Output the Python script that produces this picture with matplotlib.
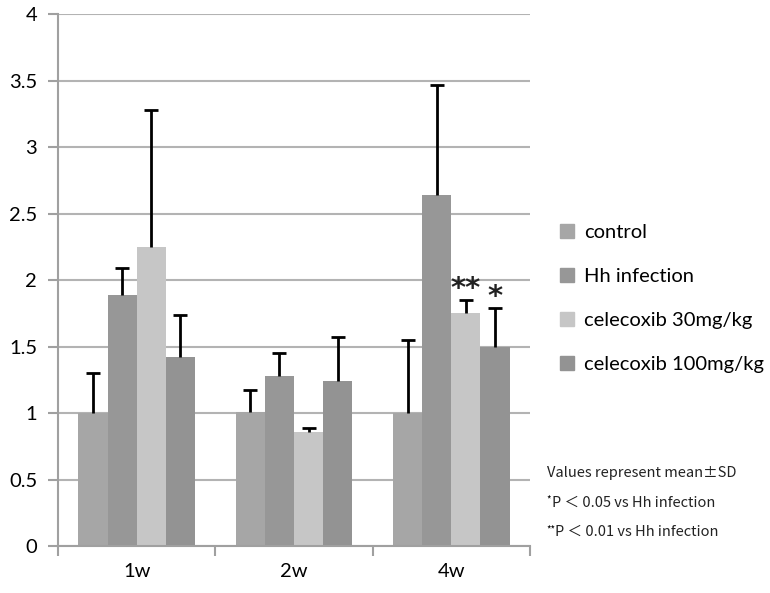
import numpy as np
import matplotlib.pyplot as plt
from matplotlib.patches import Patch

weeks = ["1w", "2w", "4w"]
groups = ["control", "Hh infection", "celecoxib 30mg/kg", "celecoxib 100mg/kg"]
means = {
    "control": [1.0, 1.01, 1.0],
    "Hh infection": [1.89, 1.28, 2.64],
    "celecoxib 30mg/kg": [2.25, 0.86, 1.75],
    "celecoxib 100mg/kg": [1.42, 1.24, 1.50],
}
sd = {
    "control": [0.30, 0.16, 0.55],
    "Hh infection": [0.20, 0.17, 0.83],
    "celecoxib 30mg/kg": [1.03, 0.03, 0.10],
    "celecoxib 100mg/kg": [0.32, 0.33, 0.29],
}
stars = {"celecoxib 30mg/kg": "**", "celecoxib 100mg/kg": "*"}  # at 4w
colors = ["#a6a6a6", "#979797", "#c6c6c6", "#939393"]

plt.rcParams['font.family'] = ['Lato', 'DejaVu Sans']

fig = plt.figure(figsize=(7.7, 5.93), dpi=100)
ax = fig.add_axes([0.0753, 0.0793, 0.613, 0.8967])

x = np.arange(len(weeks)) + 0.5
w = 0.185
for i, g in enumerate(groups):
    pos = x + (i - 1.5) * w
    m = np.array(means[g])
    top = m + np.array(sd[g])
    ax.bar(pos, m, w, color=colors[i], zorder=2)
    # upper-only error bars
    ax.vlines(pos, m, top, color="black", linewidth=2, zorder=3)
    ax.plot(pos, top, linestyle="none", marker="_", markersize=10,
            markeredgewidth=2, color="black", zorder=3)
    if g in stars:
        ax.text(pos[2], top[2] - 0.02, stars[g], ha="center", va="bottom",
                fontsize=21, family="DejaVu Sans", fontweight="bold",
                color="#222222")

ax.set_xlim(0, 3)
ax.set_ylim(0, 4)
ax.set_yticks(np.arange(0, 4.01, 0.5))
ax.set_yticklabels(["0", "0.5", "1", "1.5", "2", "2.5", "3", "3.5", "4"])
ax.yaxis.grid(True, color="#b3b3b3", linewidth=1.5, zorder=0)
ax.set_axisbelow(True)

ax.set_xticks([0, 1, 2, 3])
ax.set_xticklabels([])
ax.set_xticks(x, minor=True)
ax.set_xticklabels(weeks, minor=True)
ax.tick_params(axis="x", which="minor", length=0, pad=12, labelsize=14.5)
ax.tick_params(axis="x", which="major", length=7, width=1.5, color="#a0a0a0")
ax.tick_params(axis="y", length=7, width=1.5, color="#a0a0a0", labelsize=14.5, pad=8)

for s in ["top", "right"]:
    ax.spines[s].set_visible(False)
for s in ["left", "bottom"]:
    ax.spines[s].set_color("#a0a0a0")
    ax.spines[s].set_linewidth(1.5)

handles = [Patch(color=c) for c in colors]
fig.legend(handles, groups, loc="upper left", bbox_to_anchor=(0.727, 0.622),
           frameon=False, fontsize=14.5, handlelength=0.7, handleheight=0.7,
           handletextpad=0.5, labelspacing=1.33, borderpad=0, borderaxespad=0)

note_font = ['Noto Sans CJK JP', 'DejaVu Sans']
fig.text(0.710, 1 - 473 / 593, "Values represent mean\u00b1SD", fontsize=10.5,
         family=note_font, va="center", color="#222222")
fig.text(0.710, 1 - 500 / 593, "*", fontsize=7, family=note_font, va="center")
fig.text(0.717, 1 - 503 / 593, "P \uff1c 0.05 vs Hh infection", fontsize=10.5,
         family=note_font, va="center", color="#222222")
fig.text(0.710, 1 - 529 / 593, "**", fontsize=7, family=note_font, va="center")
fig.text(0.721, 1 - 532 / 593, "P \uff1c 0.01 vs Hh infection", fontsize=10.5,
         family=note_font, va="center", color="#222222")

plt.savefig("out.png", dpi=100)
